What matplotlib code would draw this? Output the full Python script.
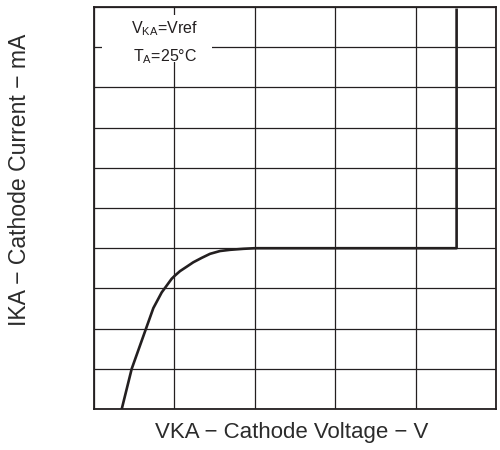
import matplotlib
matplotlib.use("Agg")
import matplotlib.pyplot as plt

# curva (em divisoes da grade)
vka = [0.345, 0.469, 0.647, 0.738, 0.842, 0.904, 0.966, 1.007, 1.07, 1.153,
       1.235, 1.34, 1.443, 1.567, 1.692, 1.858, 2.0, 4.51, 4.51]
ika = [0, 1, 2, 2.51, 2.9, 3.07, 3.24, 3.32, 3.43, 3.54,
       3.65, 3.76, 3.86, 3.93, 3.96, 3.985, 4.0, 4.0, 9.93]

x_div = [0, 1, 2, 3, 4, 5]
y_div = [0, 1, 2, 3, 4, 5, 6, 7, 8, 9, 10]

plt.rcParams["font.family"] = ["Liberation Sans", "DejaVu Sans"]

fig = plt.figure(figsize=(5, 4.5), dpi=100)
ax = fig.add_axes([0.188, 0.0911, 0.804, 0.8933])

ax.set_xlim(0, 5)
ax.set_ylim(0, 10)
ax.set_xticks(x_div)
ax.set_yticks(y_div)
ax.tick_params(length=0, labelbottom=False, labelleft=False)
ax.grid(True, color="#231f20", linewidth=0.9)
for s in ax.spines.values():
    s.set_color("#231f20")
    s.set_linewidth(1.3)

ax.plot(vka, ika, color="#231f20", linewidth=1.9, solid_joinstyle="round", zorder=3)

# caixa de condicoes (fundo branco por cima da grade)
ax.add_patch(plt.Rectangle((0.1, 8.62), 1.37, 1.18, facecolor="white",
                           edgecolor="none", zorder=2.5))
ax.text(0.46, 9.47, r"V$_{\mathregular{KA}}$=Vref", fontsize=11.5,
        va="center", ha="left", color="#231f20", zorder=4)
ax.text(0.48, 8.77, r"T$_{\mathregular{A}}$=25°C", fontsize=11.5,
        va="center", ha="left", color="#231f20", zorder=4)

fig.text(0.583, 0.038, "VKA − Cathode Voltage − V", fontsize=16,
         ha="center", va="center", color="#2b2b2b")
fig.text(0.039, 0.6, "IKA − Cathode Current − mA", fontsize=16.6,
         ha="center", va="center", rotation=90, color="#2b2b2b")

fig.savefig("out.png", dpi=100)
